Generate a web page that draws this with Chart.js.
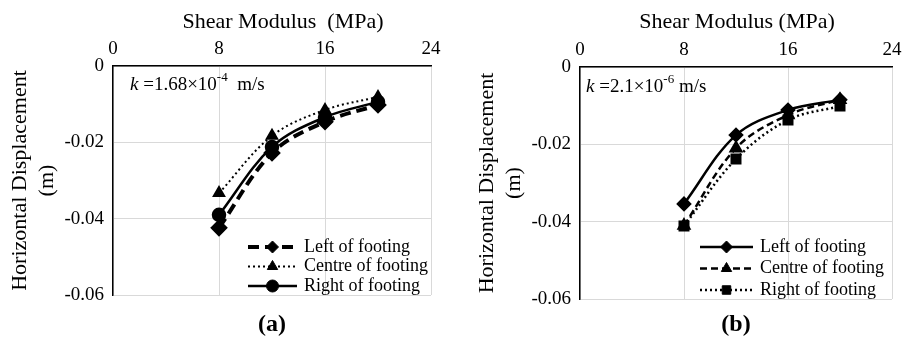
<!DOCTYPE html>
<html>
<head>
<meta charset="utf-8">
<script src="https://cdn.jsdelivr.net/npm/chart.js@4.4.1/dist/chart.umd.min.js"></script>
<style>
  html, body { margin: 0; padding: 0; background: #fff; }
  .wrap { position: relative; width: 913px; height: 339px; }
  canvas { position: absolute; top: 0; }
  #chartA { left: 0; }
  #chartB { left: 460px; }
</style>
</head>
<body>
<div class="wrap">
  <canvas id="chartA" width="460" height="339"></canvas>
  <canvas id="chartB" width="453" height="339"></canvas>
</div>
<script>
const FONT = "'Liberation Serif', 'Times New Roman', serif";

// shared axes
const shearModulus = [8, 12, 16, 20];
const xTicks = [0, 8, 16, 24];
const yTicks = [0, -0.02, -0.04, -0.06];
const seriesNames = ["Left of footing", "Centre of footing", "Right of footing"];

// panel (a): k = 1.68e-4 m/s
const aLeft = [-0.0424, -0.0228, -0.0146, -0.0102];
const aCentre = [-0.0333, -0.0183, -0.0115, -0.0081];
const aRight = [-0.0390, -0.0212, -0.0134, -0.0094];

// panel (b): k = 2.1e-6 m/s
const bLeft = [-0.0354, -0.0176, -0.0111, -0.0085];
const bCentre = [-0.0410, -0.0210, -0.0124, -0.0085];
const bRight = [-0.0411, -0.0238, -0.0137, -0.0101];

function series(label, values, style) {
  return Object.assign({
    label,
    data: shearModulus.map((x, i) => ({ x, y: values[i] })),
    borderColor: "#000",
    backgroundColor: "#000",
    pointBorderColor: "#000",
    pointBackgroundColor: "#000",
    tension: 0.35,
    fill: false,
  }, style);
}

// draws the axis title, the k note, the in-plot legend and the (a)/(b) label
const annotatePlugin = {
  id: "annotate",
  afterDraw(chart) {
    const o = chart.options.plugins.annotate;
    const { ctx, chartArea } = chart;
    const midX = (chartArea.left + chartArea.right) / 2;
    ctx.save();
    ctx.fillStyle = "#000";

    // x axis title (sits a little right of centre in the original)
    ctx.font = `22px ${FONT}`;
    ctx.textAlign = "center";
    ctx.textBaseline = "middle";
    ctx.fillText(o.xTitle, midX + o.xTitleShift, 22);

    // k = ... note
    let x = chartArea.left + o.kOffset.x;
    const y = chartArea.top + o.kOffset.y;
    ctx.textAlign = "left";
    ctx.font = `italic 19px ${FONT}`;
    ctx.fillText("k", x, y);
    x += ctx.measureText("k ").width;
    ctx.font = `19px ${FONT}`;
    ctx.fillText(o.kMantissa, x, y);
    x += ctx.measureText(o.kMantissa).width;
    ctx.font = `13px ${FONT}`;
    ctx.fillText(o.kExp, x, y - 7);
    x += ctx.measureText(o.kExp).width;
    ctx.font = `19px ${FONT}`;
    ctx.fillText(o.kUnit, x, y);

    // legend
    chart.data.datasets.forEach((ds, i) => {
      const ly = o.legend.y + i * o.legend.rowGap;
      const lx = o.legend.x;
      ctx.save();
      ctx.strokeStyle = "#000";
      ctx.lineWidth = ds.borderWidth;
      ctx.setLineDash(ds.borderDash || []);
      ctx.beginPath();
      ctx.moveTo(lx, ly);
      ctx.lineTo(lx + o.legend.len, ly);
      ctx.stroke();
      ctx.setLineDash([]);
      ctx.fillStyle = "#000";
      ctx.lineWidth = 1;
      Chart.helpers.drawPoint(ctx, { pointStyle: ds.pointStyle, radius: ds.pointRadius, rotation: 0, borderWidth: 1 }, lx + o.legend.len / 2, ly);
      ctx.restore();
      ctx.font = `18px ${FONT}`;
      ctx.fillStyle = "#000";
      ctx.textBaseline = "middle";
      ctx.fillText(ds.label, lx + o.legend.len + 7, ly);
    });

    // panel label
    ctx.font = `bold 24px ${FONT}`;
    ctx.textAlign = "center";
    ctx.fillText(o.panel, midX, o.panelY);
    ctx.restore();
  },
};

function buildConfig(datasets, geo, note) {
  return {
    type: "line",
    data: { datasets },
    options: {
      responsive: false,
      animation: false,
      layout: { padding: { left: 0, top: 0, right: geo.padRight, bottom: geo.padBottom } },
      plugins: {
        legend: { display: false },
        tooltip: { enabled: false },
        annotate: note,
      },
      scales: {
        x: {
          type: "linear",
          position: "top",
          min: 0,
          max: 24,
          afterBuildTicks: (s) => { s.ticks = xTicks.map((v) => ({ value: v })); },
          afterFit: (s) => { s.height = geo.top; },
          ticks: { color: "#000", font: { family: FONT, size: 19 }, padding: 6, maxRotation: 0 },
          grid: { color: "#d9d9d9", lineWidth: 1, drawTicks: false },
          border: { color: "#000", width: 1.5 },
        },
        y: {
          type: "linear",
          min: -0.06,
          max: 0,
          afterBuildTicks: (s) => { s.ticks = yTicks.map((v) => ({ value: v })); },
          afterFit: (s) => { s.width = geo.left; },
          ticks: { color: "#000", font: { family: FONT, size: 19 }, padding: 9, callback: (v) => (v === 0 ? "0" : String(v)) },
          grid: { color: "#d9d9d9", lineWidth: 1, drawTicks: false },
          border: { color: "#000", width: 1.5 },
          title: { display: true, text: ["Horizontal Displacement", "(m)"], color: "#000", font: { family: FONT, size: 22, lineHeight: 1.22 }, padding: { top: geo.yTitlePad, bottom: 0 } },
        },
      },
    },
    plugins: [annotatePlugin],
  };
}

new Chart(document.getElementById("chartA"), buildConfig(
  [
    series(seriesNames[0], aLeft, { borderWidth: 4, borderDash: [11, 6], pointStyle: "rectRot", pointRadius: 6 }),
    series(seriesNames[1], aCentre, { borderWidth: 2, borderDash: [2, 3], pointStyle: "triangle", pointRadius: 6 }),
    series(seriesNames[2], aRight, { borderWidth: 2.5, pointStyle: "circle", pointRadius: 6 }),
  ],
  { left: 113, top: 66, padRight: 29, padBottom: 44, yTitlePad: 7 },
  { xTitle: "Shear Modulus  (MPa)", xTitleShift: 11, kOffset: { x: 17, y: 19 }, kMantissa: "=1.68\u00d710", kExp: "-4", kUnit: "  m/s", legend: { x: 248, y: 247, rowGap: 19.5, len: 49 }, panel: "(a)", panelY: 325 }
));

new Chart(document.getElementById("chartB"), buildConfig(
  [
    series(seriesNames[0], bLeft, { borderWidth: 2.5, pointStyle: "rectRot", pointRadius: 6 }),
    series(seriesNames[1], bCentre, { borderWidth: 2.5, borderDash: [7, 4], pointStyle: "triangle", pointRadius: 6 }),
    series(seriesNames[2], bRight, { borderWidth: 2.5, borderDash: [2, 3], pointStyle: "rect", pointRadius: 6 }),
  ],
  { left: 120, top: 67, padRight: 21, padBottom: 40, yTitlePad: 14 },
  { xTitle: "Shear Modulus (MPa)", xTitleShift: 1, kOffset: { x: 6, y: 20 }, kMantissa: "=2.1\u00d710", kExp: "-6", kUnit: " m/s", legend: { x: 240, y: 247, rowGap: 21.5, len: 53 }, panel: "(b)", panelY: 325 }
));
</script>
</body>
</html>
